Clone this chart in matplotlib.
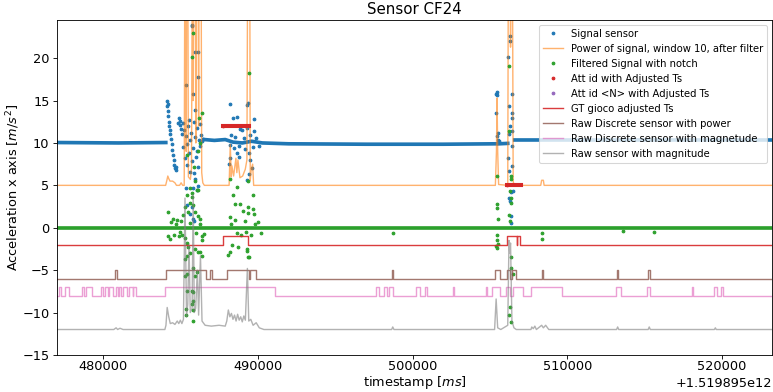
import numpy as np
import matplotlib
matplotlib.use('Agg')
import matplotlib.pyplot as plt

OFFSET = 1.519895e12

# time in ms relative to OFFSET
XLIM = (477030, 523220)

# Signal sensor: baseline band pieces (t, v), nan breaks the line
sig_band = [(477030, 10.05), (481000, 10.0), (484060, 10.05), (np.nan, np.nan),
            (486550, 10.4), (487200, 10.3), (487900, 10.4), (488400, 10.1), (489000, 10.0),
            (489600, 10.2), (490300, 10.0), (492000, 9.9), (497000, 9.85), (502000, 9.85),
            (505380, 9.9), (np.nan, np.nan), (505600, 9.9), (506150, 9.95), (np.nan, np.nan),
            (506600, 10.35), (512000, 10.35), (523220, 10.35)]
sig_pts = [(484110, 14.3), (484150, 15.0), (484180, 14.6), (484200, 13.8), (484230, 13.2),
           (484250, 12.5), (484280, 12.0), (484320, 11.5), (484360, 11.0), (484400, 10.5),
           (484440, 9.9), (484480, 9.2), (484520, 8.6), (484560, 8.0), (484610, 7.4),
           (484660, 7.0), (484700, 6.8), (484720, 7.2), (484850, 12.4), (484900, 12.9),
           (484950, 12.6), (485000, 12.1), (485050, 11.6), (485100, 11.0), (485150, 12.3),
           (485200, 9.5), (485250, 11.5), (485300, 8.2), (485350, 10.8), (485400, 7.4),
           (485450, 9.9), (485500, 12.0), (485550, 8.8), (485600, 6.6), (485650, 10.3),
           (485700, 11.2), (485750, 7.9), (485800, 9.4), (485850, 12.5), (485900, 6.5),
           (485950, 10.7), (486000, 8.3), (486050, 11.8), (486100, 9.1), (486150, 7.2),
           (486200, 10.4), (486250, 12.2), (486300, 9.6), (486350, 10.9), (486400, 10.2),
           (486450, 10.5), (485730, 23.8), (485770, 23.9), (486160, 20.7), (485945, 20.7),
           (486115, 17.8), (485360, 16.8), (485830, 15.8), (485945, 13.9), (485575, 12.7),
           (485360, 4.7), (485840, 4.7), (486100, 4.4), (485945, 5.7), (486160, 4.9),
           (485405, 2.7), (485730, 2.5), (485620, 1.6), (485835, 1.0), (485860, 0.8),
           (488225, 14.6), (488380, 13.0), (488655, 13.1), (489300, 14.5), (489365, 14.7),
           (489735, 12.8), (488870, 11.6), (489000, 11.5), (489300, 11.8), (489775, 11.4),
           (488225, 8.2), (488160, 7.5), (488765, 8.3), (489405, 8.8), (489515, 8.0),
           (489625, 7.0), (489410, 6.3), (489300, 5.6), (488225, 9.8), (488680, 8.8),
           (488300, 10.9), (488450, 9.4), (488550, 10.7), (488800, 9.6), (489100, 10.6),
           (489200, 9.3), (489500, 10.9), (489700, 9.5), (489900, 10.6), (490050, 9.6),
           (505420, 15.8), (505450, 16.0), (505440, 15.7), (505380, 13.5), (505480, 10.8),
           (505500, 10.4), (505520, 11.2), (505560, 10.2), (506290, 22.6), (506270, 22.0),
           (506185, 20.1), (506400, 15.8), (506250, 14.3), (506440, 13.5), (506420, 13.0),
           (506300, 12.0), (506440, 11.4), (506250, 11.0), (506440, 9.6), (506185, 8.2),
           (506250, 6.7), (506440, 7.3), (506460, 4.3), (506390, 4.2), (506250, 3.5),
           (506280, 3.2), (506360, 1.4), (506340, 0.6)]

# Power of signal
pow_line = [(477030, 5.0), (484050, 5.0), (484130, 5.6), (484190, 6.1), (484250, 5.8),
            (484330, 5.5), (484500, 5.5), (484650, 5.3), (484750, 5.0), (484950, 5.0),
            (485050, 5.3), (485150, 5.0), (485250, 5.0), (485300, 40), (485350, 40),
            (485380, 9.0), (485420, 40), (485470, 40), (485520, 6.0), (485650, 5.7),
            (485720, 7.0), (485790, 40), (485830, 15.0), (485870, 40), (485940, 40),
            (486000, 10.0), (486060, 40), (486130, 40), (486180, 12.0), (486230, 40),
            (486330, 40), (486380, 6.5), (486450, 5.3), (486550, 5.0), (488150, 5.0),
            (488225, 9.8), (488290, 6.0), (488330, 7.3), (488440, 6.1), (488590, 8.2),
            (488650, 6.5), (488720, 8.0), (488850, 5.9), (489025, 6.1), (489195, 6.9),
            (489300, 8.0), (489365, 40), (489475, 40), (489515, 5.6), (489580, 6.9),
            (489670, 7.5), (489735, 5.0), (505350, 5.0), (505420, 9.0), (505460, 15.3),
            (505500, 9.0), (505560, 5.1), (506150, 5.0), (506200, 40), (506290, 40),
            (506330, 21.3), (506380, 40), (506440, 40), (506500, 5.5), (506560, 5.0),
            (508280, 5.0), (508340, 5.6), (508450, 5.6), (508500, 5.0), (523220, 5.0)]

# Filtered signal with notch
filt_band = [(477030, 0.0), (523220, 0.0)]
filt_pts = [(485790, 23.0), (485750, 20.1), (486375, 13.5), (486220, 12.9), (485405, 8.6),
            (485900, 7.2), (486160, 9.1), (486265, 10.0), (486055, 4.5), (486160, 4.5),
            (485945, 5.5), (485620, 4.7), (485730, 4.1), (485405, 3.9), (485780, 3.6),
            (485620, 2.9), (485835, 2.7), (485297, 2.5), (485510, 1.9), (485945, 1.9),
            (484220, 1.8), (485200, 1.5), (486160, 1.4), (486265, 1.0), (484500, 1.0),
            (484800, 0.9), (485050, 0.8), (484220, -1.0), (484330, -1.3), (485297, -1.2),
            (485405, -1.8), (485510, -2.3), (485405, -3.3), (485620, -3.0), (485945, -2.5),
            (486160, -2.9), (486375, -1.4), (486420, -1.0), (485835, -4.7), (485945, -5.7),
            (485297, -5.7), (485405, -7.4), (485835, -7.6), (485800, -8.6), (485835, -9.7),
            (485835, -11.0), (485297, -3.7), (485405, -5.5), (486055, -5.2), (485730, -7.4),
            (485780, -9.0), (485360, -9.6), (485340, -10.3), (486265, -2.9), (486375, -3.3),
            (484600, -0.8), (484900, -1.0), (485100, -0.9), (486500, -0.7), (484400, 0.7),
            (484700, 0.5), (485000, -0.5), (485600, 0.6), (486000, -0.6), (486300, 0.5),
            (489405, 18.3), (488205, 5.8), (489340, 5.5), (488675, 4.8), (488380, 3.9),
            (489665, 3.9), (488545, 2.8), (488870, 2.8), (489400, 2.5), (489700, 2.2),
            (489050, 2.0), (489350, 1.7), (489750, 1.6), (488200, 1.3), (488330, -2.0),
            (488720, -2.3), (488205, -2.9), (489280, -2.5), (489360, -3.4), (489300, -2.7),
            (489410, -3.4), (488095, -3.2), (488500, 0.9), (488900, -0.9), (489150, 0.8),
            (489550, -0.8), (490000, 0.7), (490200, -0.6), (488300, 0.5), (488650, -0.6),
            (489250, -0.5), (489800, 0.5),
            (505450, 6.1), (505450, 2.8), (505480, 2.3), (505500, 1.0), (505430, -0.8),
            (505480, -1.5), (505400, -2.1), (505510, -1.9), (505460, -2.4), (506230, 19.1),
            (506210, 11.4), (506360, 6.1), (506380, 5.8), (506270, 4.3), (506330, 3.5),
            (506390, 2.9), (506250, 1.5), (506310, 0.8), (506340, -3.5), (506360, -4.7),
            (506460, -5.5), (506290, -9.4), (506250, -10.3), (506330, -11.1),
            (508350, -0.6), (508370, -1.3), (498750, -0.6), (513580, -0.4), (515620, -0.5)]

# Att id with Adjusted Ts (dense runs of points)
att_runs = [(487750, 489450, 12.0), (506100, 507000, 5.0)]

# GT gioco adjusted Ts (step edges)
gt_t = [477030, 487735, 489390, 506120, 506730, 506770, 506950, 523220]
gt_v = [-2, -1, -2, -1, -2, -1, -2, -2]

# Raw Discrete sensor with power (step edges)
pw_t = [477030, 480775, 480905, 484070, 486654, 486890, 487040, 487990, 489430, 489500,
        489880, 498670, 498753, 505323, 505646, 506118, 506292, 506402, 506680, 508340,
        508442, 513185, 513288, 515226, 515336, 523220]
pw_v = [-6, -5, -6, -5, -6, -5, -6, -5, -6, -5, -6, -5, -6, -5, -6, -5, -6, -5, -6, -5,
        -6, -5, -6, -5, -6, -6]

# Raw Discrete sensor with magnetude (step edges)
mg_t = [477030, 477158, 477287, 477545, 477804, 478624, 478773, 478902, 479309, 479851,
        480019, 480149, 480342, 480407, 480665, 480840, 480969, 481053, 481163, 481273,
        481570, 481699, 481919, 481957, 482132, 484005, 491111, 497636, 497849, 498172,
        498366, 498456, 498753, 500220, 500478, 500801, 500950, 502630, 502675, 504722,
        504826, 505149, 505646, 506014, 506292, 506505, 507113, 507649, 509632, 513120,
        513444, 515142, 515336, 518030, 518133, 519471, 519645, 519923, 520072, 523220]
mg_v = [-8 if i % 2 == 0 else -7 for i in range(len(mg_t) - 1)] + [-8]

# Raw sensor with magnitude
raw_line = [(477030, -12.0), (480700, -12.0), (480850, -11.8), (480950, -12.0),
            (481100, -11.85), (481300, -12.0), (484000, -12.0), (484070, -11.5),
            (484150, -9.4), (484250, -10.5), (484350, -11.3), (484500, -11.2),
            (484650, -11.4), (484800, -11.0), (484900, -11.3), (485000, -10.9),
            (485100, -11.3), (485200, -10.8), (485300, 3.5), (485400, -10.5),
            (485480, -9.0), (485560, -2.0), (485640, -10.0), (485760, -9.5),
            (485830, 3.9), (485900, -10.0), (485990, -9.5), (486100, -5.0),
            (486180, -10.3), (486300, -3.3), (486400, -11.0), (486600, -11.5),
            (487000, -11.6), (487500, -11.5), (487900, -11.6), (488000, -11.0),
            (488100, -9.7), (488200, -10.5), (488300, -10.1), (488400, -10.8),
            (488500, -10.3), (488600, -11.0), (488700, -10.2), (488800, -10.9),
            (488900, -10.5), (489000, -11.1), (489100, -10.4), (489200, -10.9),
            (489330, -4.8), (489420, -11.0), (489550, -10.8), (489700, -11.5),
            (489900, -11.2), (490100, -11.8), (490400, -12.0), (498650, -12.0),
            (498720, -11.7), (498800, -12.0), (505300, -12.0), (505400, -8.4),
            (505500, -11.8), (505700, -12.0), (506150, -11.5), (506230, -1.5),
            (506280, -3.0), (506330, -1.8), (506420, -11.0), (506550, -11.8),
            (506700, -12.0), (507650, -12.0), (507700, -11.7), (507800, -11.9),
            (507900, -11.6), (508000, -12.0), (508340, -11.5), (508450, -11.8),
            (508600, -11.5), (508800, -12.0), (513180, -12.0), (513250, -11.7),
            (513320, -12.0), (515220, -12.0), (515290, -11.7), (515360, -12.0),
            (519500, -12.0), (519560, -11.8), (519620, -12.0), (523220, -12.0)]


def xy(pairs):
    a = np.array(pairs, dtype=float)
    return a[:, 0] + OFFSET, a[:, 1]


DPI = 77.3
plt.rcParams['font.size'] = 12
fig = plt.figure(figsize=(773 / DPI, 392 / DPI), dpi=DPI)
ax = fig.add_axes([0.0737, 0.0945, 0.925, 0.8545])

x, y = xy(sig_band)
ax.plot(x, y, '-', color='C0', lw=3.4)
x, y = xy(sig_pts)
ax.plot(x, y, '.', color='C0', ms=5, label='Signal sensor')

x, y = xy(pow_line)
ax.plot(x, y, color='C1', lw=1.3, alpha=0.6, label='Power of signal, window 10, after filter')

x, y = xy(filt_band)
ax.plot(x, y, '-', color='C2', lw=3.4)
x, y = xy(filt_pts)
ax.plot(x, y, '.', color='C2', ms=5, label='Filtered Signal with notch')

for t0, t1, v in att_runs:
    ax.plot([t0 + OFFSET, t1 + OFFSET], [v, v], '-', color='C3', lw=3.8)
ax.plot([r[0] + OFFSET for r in att_runs], [r[2] for r in att_runs], '.', color='C3',
        ms=5, label='Att id with Adjusted Ts')
ax.plot([], [], '.', color='C4', ms=5, label='Att id <N> with Adjusted Ts')

ax.step(np.array(gt_t) + OFFSET, gt_v, where='post', color='C3', lw=1.3, alpha=0.9,
        label='GT gioco adjusted Ts')
ax.step(np.array(pw_t) + OFFSET, pw_v, where='post', color='C5', lw=1.3, alpha=0.8,
        label='Raw Discrete sensor with power')
ax.step(np.array(mg_t) + OFFSET, mg_v, where='post', color='C6', lw=1.3, alpha=0.7,
        label='Raw Discrete sensor with magnetude')
x, y = xy(raw_line)
ax.plot(x, y, color='C7', lw=1.3, alpha=0.6, label='Raw sensor with magnitude')

ax.set_xlim(XLIM[0] + OFFSET, XLIM[1] + OFFSET)
ax.set_ylim(-15, 24.5)
ax.set_yticks([-15, -10, -5, 0, 5, 10, 15, 20])
ax.tick_params(axis='x', pad=1.5)
ax.ticklabel_format(axis='x', useOffset=OFFSET, style='plain')
ax.set_title('Sensor CF24', fontsize=14)
ax.set_xlabel('timestamp [$ms$]', labelpad=1)
ax.set_ylabel('Acceleration x axis [$m/s^2$]', labelpad=0)
ax.legend(loc='upper right', fontsize=9.3)

fig.savefig('out.png', dpi=DPI)
